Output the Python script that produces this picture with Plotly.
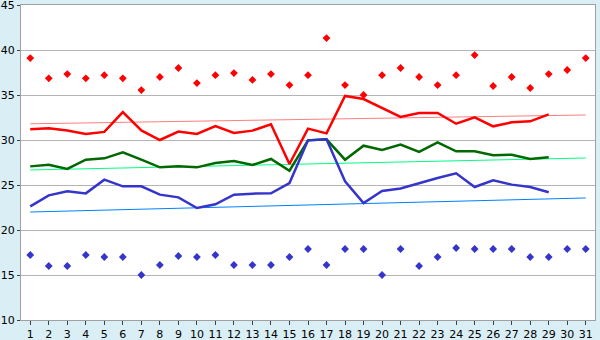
import plotly.graph_objects as go

days = list(range(1, 32))
line_days = list(range(1, 30))

record_max = [39.1, 36.85, 37.33, 36.85, 37.2, 36.85, 35.55, 37.0, 38.0, 36.33,
              37.2, 37.44, 36.67, 37.33, 36.1, 37.2, 41.33, 36.1, 35.0, 37.2,
              38.0, 37.0, 36.1, 37.2, 39.44, 36.0, 37.0, 35.78, 37.33, 37.78, 39.1]
record_min = [17.22, 16.0, 16.0, 17.22, 17.0, 17.0, 15.0, 16.11, 17.11, 17.0,
              17.22, 16.11, 16.11, 16.11, 17.0, 17.89, 16.11, 17.89, 17.89, 15.0,
              17.89, 16.0, 17.0, 18.0, 17.89, 17.89, 17.89, 17.0, 17.0, 17.89, 17.89]

max_temp = [31.2, 31.3, 31.05, 30.67, 30.9, 33.1, 31.07, 30.0, 30.93, 30.67,
            31.55, 30.78, 31.04, 31.74, 27.33, 31.26, 30.74, 34.9, 34.55, 33.56,
            32.56, 33.0, 33.0, 31.81, 32.52, 31.52, 31.96, 32.07, 32.85]
mean_temp = [27.07, 27.26, 26.78, 27.81, 27.96, 28.63, 27.81, 26.96, 27.07, 26.96,
             27.44, 27.67, 27.22, 27.89, 26.59, 29.96, 30.07, 27.81, 29.37, 28.89,
             29.5, 28.67, 29.74, 28.74, 28.74, 28.3, 28.37, 27.89, 28.07]
min_temp = [22.63, 23.85, 24.3, 24.07, 25.59, 24.85, 24.85, 23.93, 23.63, 22.44,
            22.85, 23.93, 24.04, 24.07, 25.22, 29.96, 30.07, 25.41, 23.0, 24.33,
            24.62, 25.22, 25.78, 26.3, 24.78, 25.52, 25.04, 24.78, 24.19]

trend_days = [1, 31]
trend_max = [31.8, 32.78]
trend_mean = [26.67, 28.0]
trend_min = [22.0, 23.56]

y_ticks = [10, 15, 20, 25, 30, 35, 40, 45]

fig = go.Figure()

fig.add_trace(go.Scatter(x=trend_days, y=trend_max, mode="lines",
                         line=dict(color="#ff7f7f", width=1)))
fig.add_trace(go.Scatter(x=trend_days, y=trend_mean, mode="lines",
                         line=dict(color="#00ff80", width=1)))
fig.add_trace(go.Scatter(x=trend_days, y=trend_min, mode="lines",
                         line=dict(color="#0080ff", width=1)))

fig.add_trace(go.Scatter(x=line_days, y=max_temp, mode="lines",
                         line=dict(color="#ff0000", width=2.5)))
fig.add_trace(go.Scatter(x=line_days, y=mean_temp, mode="lines",
                         line=dict(color="#006800", width=2.5)))
fig.add_trace(go.Scatter(x=line_days, y=min_temp, mode="lines",
                         line=dict(color="#3535cc", width=2.5)))

fig.add_trace(go.Scatter(x=days, y=record_max, mode="markers",
                         marker=dict(symbol="diamond", size=6, color="#ff0000")))
fig.add_trace(go.Scatter(x=days, y=record_min, mode="markers",
                         marker=dict(symbol="diamond", size=6, color="#3535cc")))

fig.update_layout(
    width=600, height=340,
    margin=dict(l=21, r=5, t=5, b=20, autoexpand=False),
    paper_bgcolor="#d9eef5",
    plot_bgcolor="#ffffff",
    showlegend=False,
    font=dict(family="DejaVu Sans", size=11, color="#000000"),
)
fig.update_xaxes(
    range=[0.5, 31.5], tickmode="array", tickvals=days,
    ticktext=[str(d) for d in days],
    showgrid=False, zeroline=False, automargin=False,
    showline=True, linecolor="#a0a0a0", linewidth=1, mirror=True,
    ticks="outside", ticklen=4, tickcolor="#404040",
    tickfont=dict(size=11), ticklabeloverflow="allow",
)
fig.update_yaxes(
    range=[10, 45], tickmode="array", tickvals=y_ticks,
    showgrid=True, gridcolor="#b4b4b4", gridwidth=1, zeroline=False,
    automargin=False,
    showline=True, linecolor="#a0a0a0", linewidth=1, mirror=True,
    ticks="outside", ticklen=3, tickcolor="#404040",
    tickfont=dict(size=11), ticklabeloverflow="allow",
)

fig.write_html("out.html")
